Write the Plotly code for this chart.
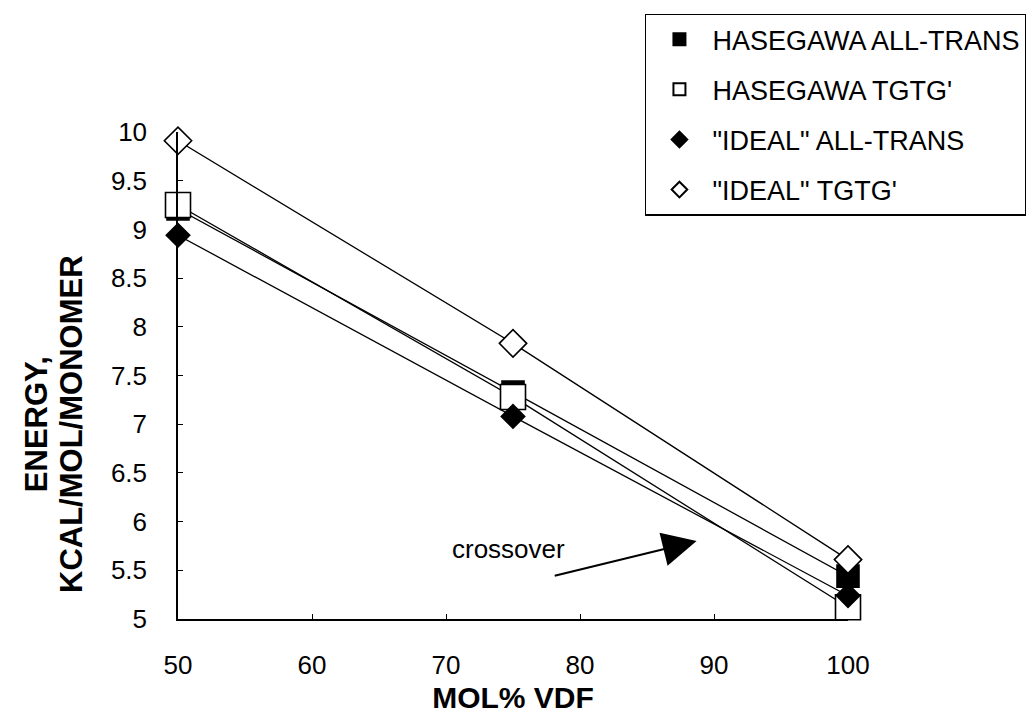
import plotly.graph_objects as go

mol_vdf = [50, 75, 100]
hasegawa_all_trans = [9.21, 7.33, 5.44]
hasegawa_tgtg = [9.25, 7.28, 5.12]
ideal_all_trans = [8.94, 7.08, 5.24]
ideal_tgtg = [9.91, 7.83, 5.61]

names = ["HASEGAWA ALL-TRANS", "HASEGAWA TGTG'", "\"IDEAL\" ALL-TRANS", "\"IDEAL\" TGTG'"]
series = [hasegawa_all_trans, hasegawa_tgtg, ideal_all_trans, ideal_tgtg]
symbols = ["square", "square", "diamond", "diamond"]
fills = ["black", "white", "black", "white"]
sizes = [22, 25, 18, 21]

x_ticks = [50, 60, 70, 80, 90, 100]
y_ticks = [5, 5.5, 6, 6.5, 7, 7.5, 8, 8.5, 9, 9.5, 10]
y_ticklabels = ["5", "5.5", "6", "6.5", "7", "7.5", "8", "8.5", "9", "9.5", "10"]
y_title_lines = ["ENERGY,", "KCAL/MOL/MONOMER"]

FONT = "Liberation Sans, Arial, Helvetica, sans-serif"

fig = go.Figure()

# connecting lines (beneath markers)
for ys in series:
    fig.add_trace(go.Scatter(x=mol_vdf, y=ys, mode="lines",
                             line=dict(color="black", width=1.3),
                             showlegend=False, hoverinfo="skip",
                             cliponaxis=False))

# markers
for i, (name, ys) in enumerate(zip(names, series)):
    fig.add_trace(go.Scatter(x=mol_vdf, y=ys, mode="markers", name=name,
                             legendgroup=f"g{i}",
                             marker=dict(symbol=symbols[i], size=sizes[i],
                                         color=fills[i],
                                         line=dict(color="black", width=1.6)),
                             cliponaxis=False))

fig.add_annotation(x=74.7, y=5.72, xref="x", yref="y", text="crossover",
                   showarrow=False, font=dict(family=FONT, size=26, color="black"))
fig.add_annotation(x=88.7, y=5.80, ax=78.0, ay=5.44, xref="x", yref="y",
                   axref="x", ayref="y", text="", showarrow=True,
                   arrowhead=2, arrowsize=3.4, arrowwidth=2, arrowcolor="black")

# y-axis title (two rotated lines)
for xpos, line in zip([-0.212, -0.160], y_title_lines):
    fig.add_annotation(x=xpos, y=0.40, xref="paper", yref="paper",
                       text=f"<b>{line}</b>", textangle=-90,
                       showarrow=False, xanchor="center", yanchor="middle",
                       font=dict(family=FONT, size=31, color="black"))

fig.update_layout(
    width=1034, height=714,
    margin=dict(l=170, r=194, t=123.5, b=103, autoexpand=False),
    paper_bgcolor="white", plot_bgcolor="white",
    font=dict(family=FONT, size=26, color="black"),
    legend=dict(x=0.616, y=0.992, xref="container", yref="container",
                xanchor="left", yanchor="top",
                bgcolor="white", bordercolor="black", borderwidth=1.5,
                font=dict(family=FONT, size=27, color="black"),
                itemsizing="constant", itemwidth=56,
                traceorder="grouped", tracegroupgap=12),
    xaxis=dict(range=[50, 100], tickvals=x_ticks, ticks="inside", ticklen=5,
               tickcolor="black", showline=True, linecolor="black", linewidth=1.5,
               showgrid=False, zeroline=False, ticklabelstandoff=22,
               tickfont=dict(size=26),
               title=dict(text="<b>MOL% VDF</b>", font=dict(size=30), standoff=8)),
    yaxis=dict(range=[5, 10], tickvals=y_ticks, ticktext=y_ticklabels,
               ticks="inside", ticklen=5, tickcolor="black",
               showline=True, linecolor="black", linewidth=1.5,
               showgrid=False, zeroline=False, ticklabelstandoff=24,
               tickfont=dict(size=26)),
)

fig.write_html("out.html")
